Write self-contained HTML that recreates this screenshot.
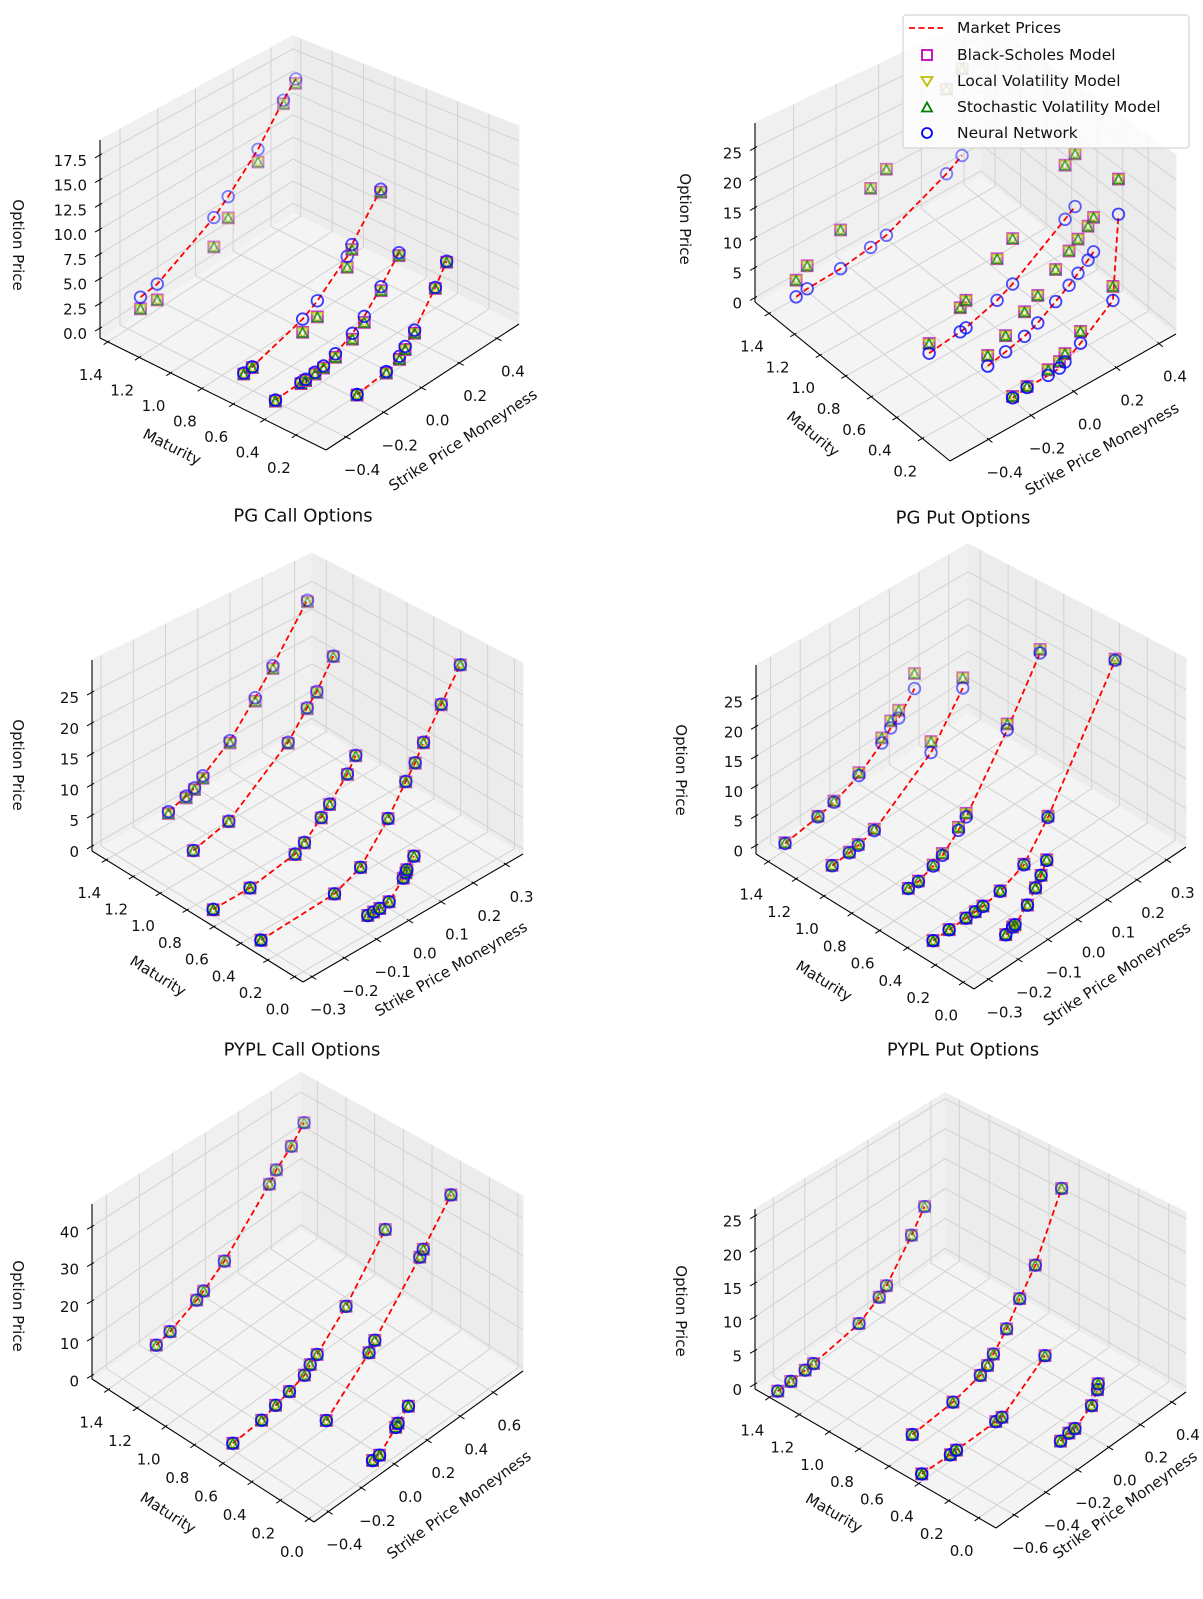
<!DOCTYPE html>
<html><head><meta charset="utf-8">
<style>
html,body{margin:0;padding:0;background:#fff;}
svg{display:block;font-family:"DejaVu Sans","Liberation Sans",sans-serif;}
</style></head>
<body>
<svg id="fig" width="1203" height="1599" viewBox="0 0 1203 1599" xmlns="http://www.w3.org/2000/svg"></svg>
<script>
// ===== DATA =====
// PG Call
const pgCallMaturity = [1.4, 0.6, 0.38, 0.1];
const pgCallStrike = [[-0.333,-0.244,0.056,0.132,0.29,0.425,0.49],[-0.45,-0.405,-0.138,-0.06,0.098,0.123,0.276],[-0.465,-0.33,-0.305,-0.255,-0.21,-0.147,-0.057,0.006,0.095,0.19],[-0.265,-0.11,-0.04,-0.01,0.04,0.15,0.21]];
const pgCallMarket = [[1.4,1.65,4.9,6.2,9.4,13.2,14.8],[1.3,1.37,2.9,3.8,6.4,7.3,11.2],[0.5,0.62,0.62,0.72,0.8,1.24,2.17,3.1,5.0,7.3],[0.75,1.14,1.8,2.4,3.4,6.3,8.2]];
const pgCallModel = [[0.2,0.0,1.75,3.9,8.0,12.8,14.3],[1.2,1.3,1.6,2.2,5.3,6.8,10.9],[0.4,0.5,0.5,0.55,0.6,0.9,1.6,2.5,4.6,7.0],[0.7,1.0,1.5,2.1,3.1,6.2,8.1]];
const pgCallStrikeTicks = [-0.4,-0.2,0.0,0.2,0.4];
const pgCallMaturityTicks = [0.2,0.4,0.6,0.8,1.0,1.2,1.4];
const pgCallPriceTicks = [0,2.5,5,7.5,10,12.5,15,17.5];
const pgCallPriceLabels = ["0.0","2.5","5.0","7.5","10.0","12.5","15.0","17.5"];
// PG Put
const pgPutMaturity = [1.35, 0.6, 0.35, 0.1];
const pgPutStrike = [[-0.484,-0.432,-0.275,-0.134,-0.06,0.222,0.295],[-0.309,-0.163,-0.136,0.01,0.083,0.329,0.376],[-0.184,-0.10,-0.011,0.051,0.135,0.198,0.24,0.287,0.313],[-0.217,-0.149,-0.05,0.003,0.029,0.102,0.254,0.28]];
const pgPutMarket = [[0.93,1.25,1.5,2.3,2.9,8.0,9.8],[1.0,1.66,1.8,3.5,4.8,11.0,12.3],[0.7,1.4,2.2,3.2,5.1,6.6,7.8,9.1,10.0],[0.4,0.75,0.8,0.95,1.45,3.1,7.2,20.9]];
const pgPutModel = [[3.7,5.1,8.1,12.5,14.4,23.2,25.5],[2.55,5.6,6.3,10.4,12.4,20.3,21.4],[2.4,4.0,6.2,7.7,10.4,12.3,13.5,14.8,15.8],[0.6,0.9,1.7,2.0,2.8,5.0,9.5,26.7]];
const pgPutStrikeTicks = [-0.4,-0.2,0.0,0.2,0.4];
const pgPutMaturityTicks = [0.2,0.4,0.6,0.8,1.0,1.2,1.4];
const pgPutPriceTicks = [0,5,10,15,20,25];
// PYPL Call
const pyplCallMaturity = [1.3, 1.05, 0.6, 0.3, 0.05];
const pyplCallStrike = [[-0.177,-0.122,-0.096,-0.07,0.014,0.092,0.147,0.254],[-0.204,-0.094,0.09,0.149,0.179,0.23],[-0.33,-0.216,-0.076,-0.047,0.005,0.031,0.086,0.112],[-0.307,-0.079,0.002,0.087,0.142,0.171,0.197,0.252,0.311],[-0.08,-0.062,-0.043,-0.014,0.03,0.038,0.041,0.063]];
const pyplCallMarket = [[3.8,4.7,5.3,6.5,9.9,14.9,18.8,27.2],[1.63,3.1,10.7,14.8,16.7,21.3],[1.88,1.93,3.2,4.2,6.7,8.1,11.4,13.7],[0.32,0.9,2.7,8.0,12.4,14.6,17.2,21.9,26.8],[0.78,0.8,0.8,1.0,3.4,4.0,4.4,5.9]];
const pyplCallModel = [[3.5,4.4,5.0,6.1,9.5,14.3,18.3,26.9],[1.6,3.0,10.5,14.6,16.5,21.2],[1.8,1.9,3.1,4.1,6.6,8.0,11.3,13.6],[0.3,0.9,2.7,8.0,12.3,14.5,17.1,21.8,26.8],[0.78,0.8,0.8,1.0,3.4,4.0,4.4,5.9]];
const pyplCallStrikeTicks = [-0.3,-0.2,-0.1,0.0,0.1,0.2,0.3];
const pyplCallMaturityTicks = [0.0,0.2,0.4,0.6,0.8,1.0,1.2,1.4];
const pyplCallPriceTicks = [0,5,10,15,20,25];
// PYPL Put
const pyplPutMaturity = [1.35, 1.05, 0.65, 0.25, 0.05];
const pyplPutStrike = [[-0.316,-0.205,-0.151,-0.067,0.01,0.04,0.067,0.12],[-0.298,-0.24,-0.21,-0.156,0.035,0.142],[-0.229,-0.195,-0.145,-0.114,-0.06,-0.034,0.104,0.215],[-0.333,-0.279,-0.222,-0.191,-0.165,-0.107,-0.027,0.054,0.28],[-0.182,-0.159,-0.151,-0.109,-0.082,-0.063,-0.044]];
const pyplPutMarket = [[1.2,2.0,2.7,4.5,7.6,9.25,10.1,13.6],[1.14,1.4,1.64,2.35,9.4,17.2],[0.77,0.8,1.74,2.5,4.9,6.3,16.6,26.4],[1.15,1.2,1.25,1.3,1.35,1.95,3.7,8.9,28.3],[0.1,0.6,0.7,2.5,4.4,5.8,7.6]];
const pyplPutModel = [[1.3,2.1,2.9,5.0,8.5,10.5,11.5,16.3],[1.2,1.5,1.8,2.6,11.3,19.0],[0.8,0.9,1.9,2.8,5.4,6.9,17.6,27.0],[1.15,1.2,1.25,1.3,1.4,2.0,3.8,9.1,28.5],[0.1,0.6,0.7,2.5,4.4,5.8,7.7]];
const pyplPutStrikeTicks = [-0.3,-0.2,-0.1,0.0,0.1,0.2,0.3];
const pyplPutMaturityTicks = [0.0,0.2,0.4,0.6,0.8,1.0,1.2,1.4];
const pyplPutPriceTicks = [0,5,10,15,20,25];
// Panel 5 (calls)
const p5Maturity = [1.35, 0.62, 0.35, 0.02];
const p5Strike = [[-0.24,-0.156,0.005,0.047,0.173,0.446,0.488,0.579,0.656],[-0.41,-0.235,-0.151,-0.067,0.024,0.059,0.101,0.276,0.514],[-0.078,0.181,0.216,0.489,0.51,0.678],[-0.084,-0.042,0.056,0.07,0.133]];
const p5Market = [[4.3,5.3,8.8,10.0,14.3,27.5,30.3,34.3,38.8],[1.3,1.9,3.2,4.2,5.7,7.4,8.8,16.3,30.0],[3.4,13.2,15.4,29.4,30.9,40.8],[1.1,1.2,5.3,5.9,8.4]];
const p5Model = [[4.3,5.3,8.8,10.0,14.3,27.5,30.3,34.3,38.8],[1.3,1.9,3.2,4.2,5.7,7.4,8.8,16.3,30.0],[3.4,13.2,15.4,29.4,30.9,40.8],[1.1,1.2,5.3,5.9,8.4]];
const p5StrikeTicks = [-0.4,-0.2,0.0,0.2,0.4,0.6];
const p5MaturityTicks = [0.0,0.2,0.4,0.6,0.8,1.0,1.2,1.4];
const p5PriceTicks = [0,10,20,30,40];
// Panel 6 (puts)
const p6Maturity = [1.35, 0.6, 0.35, 0.05];
const p6Strike = [[-0.71,-0.627,-0.536,-0.483,-0.194,-0.066,-0.02,0.139,0.222],[-0.568,-0.31,-0.136,-0.09,-0.053,0.031,0.114,0.213,0.38],[-0.745,-0.563,-0.525,-0.275,-0.236,0.037],[-0.149,-0.096,-0.058,0.048,0.086,0.09]];
const p6Market = [[0.68,0.75,0.9,1.0,2.2,4.1,5.1,10.4,13.6],[1.36,1.9,3.0,3.7,4.8,7.2,10.4,13.9,23.1],[1.6,1.45,1.5,1.6,1.6,6.2],[0.46,0.76,0.8,2.4,4.1,4.9]];
const p6Model = [[0.68,0.75,0.9,1.0,2.2,4.1,5.1,10.4,13.6],[1.36,1.9,3.0,3.7,4.8,7.2,10.4,13.9,23.1],[1.6,1.45,1.5,1.6,1.6,6.2],[0.46,0.76,0.8,2.4,4.1,4.9]];
const p6StrikeTicks = [-0.6,-0.4,-0.2,0.0,0.2,0.4];
const p6MaturityTicks = [0.0,0.2,0.4,0.6,0.8,1.0,1.2,1.4];
const p6PriceTicks = [0,5,10,15,20,25];

// ===== GEOMETRY (pixel layout + axis limits) =====
const panels = [
 {id:'pg-call', title:'PG Call Options', titleXY:[303,516], F:[326,450], L:[100,338], R:[519,324], H:198, s:[-0.506,0.517], m:[0.008,1.45], p:[-1,19],
  mat:pgCallMaturity, strike:pgCallStrike, market:pgCallMarket, model:pgCallModel, sT:pgCallStrikeTicks, mT:pgCallMaturityTicks, pT:pgCallPriceTicks, pL:pgCallPriceLabels,
  yl:[18,245], ml:[172,447], sl:[463,440]},
 {id:'pg-put', title:'PG Put Options', titleXY:[963,518], F:[950,461], L:[755,302], R:[1176,334], H:179, s:[-0.581,0.48], m:[-0.017,1.51], p:[-0.77,29.1],
  mat:pgPutMaturity, strike:pgPutStrike, market:pgPutMarket, model:pgPutModel, sT:pgPutStrikeTicks, mT:pgPutMaturityTicks, pT:pgPutPriceTicks, pL:null,
  yl:[685,219], ml:[813,434], sl:[1102,449]},
 {id:'pypl-call', title:'PYPL Call Options', titleXY:[302,1050], F:[303,982], L:[92,851], R:[523,854], H:191, s:[-0.328,0.354], m:[-0.063,1.506], p:[-0.83,30.2],
  mat:pyplCallMaturity, strike:pyplCallStrike, market:pyplCallMarket, model:pyplCallModel, sT:pyplCallStrikeTicks, mT:pyplCallMaturityTicks, pT:pyplCallPriceTicks, pL:null,
  yl:[18,765], ml:[158,976], sl:[451,969]},
 {id:'pypl-put', title:'PYPL Put Options', titleXY:[963,1050], F:[974,989], L:[756,854], R:[1186,847], H:189, s:[-0.349,0.365], m:[-0.078,1.488], p:[-1.47,30.3],
  mat:pyplPutMaturity, strike:pyplPutStrike, market:pyplPutMarket, model:pyplPutModel, sT:pyplPutStrikeTicks, mT:pyplPutMaturityTicks, pT:pyplPutPriceTicks, pL:null,
  yl:[681,770], ml:[824,981], sl:[1117,974]},
 {id:'third-call', title:null, F:[314,1522], L:[92,1379], R:[523,1371], H:175, s:[-0.487,0.78], m:[-0.035,1.514], p:[-1,46],
  mat:p5Maturity, strike:p5Strike, market:p5Market, model:p5Model, sT:p5StrikeTicks, mT:p5MaturityTicks, pT:p5PriceTicks, pL:null,
  yl:[18,1306], ml:[168,1513], sl:[459,1505]},
 {id:'third-put', title:null, F:[996,1528], L:[755,1389], R:[1186,1392], H:180, s:[-0.716,0.49], m:[-0.116,1.496], p:[-0.76,26],
  mat:p6Maturity, strike:p6Strike, market:p6Market, model:p6Model, sT:p6StrikeTicks, mT:p6MaturityTicks, pT:p6PriceTicks, pL:null,
  yl:[681,1311], ml:[834,1513], sl:[1125,1505]}
];

const NS='http://www.w3.org/2000/svg';
const svg=document.getElementById('fig');
function mk(tag, attrs, parent){const e=document.createElementNS(NS,tag);for(const k in attrs)e.setAttribute(k,attrs[k]);(parent||svg).appendChild(e);return e;}

function norm(P,s,m){return [(s-P.s[0])/(P.s[1]-P.s[0]),(m-P.m[0])/(P.m[1]-P.m[0])];}
function proj(P,s,m,p){
  const [a,b]=norm(P,s,m);
  const c=(p-P.p[0])/(P.p[1]-P.p[0]);
  const k=1+0.11*(1-a-b);
  const x=P.F[0]+a*(P.R[0]-P.F[0])+b*(P.L[0]-P.F[0]);
  const y=P.F[1]+a*(P.R[1]-P.F[1])+b*(P.L[1]-P.F[1])-c*P.H*k;
  return [x,y];
}
function fmt(v,d){return (v<0?'\u2212':'')+Math.abs(v).toFixed(d);}
function poly(pts){return pts.map(q=>q[0].toFixed(1)+','+q[1].toFixed(1)).join(' ');}

function drawPanel(P){
  const g=mk('g',{});
  
  
  const s0=P.s[0],s1=P.s[1],m0=P.m[0],m1=P.m[1],p0=P.p[0],p1=P.p[1];
  const floor=mk('polygon',{points:poly([proj(P,s0,m1,p0),proj(P,s0,m0,p0),proj(P,s1,m0,p0),proj(P,s1,m1,p0)]),fill:'#f4f4f4',stroke:'#f4f4f4'},g);
  
  
  const wl=mk('polygon',{points:poly([proj(P,s0,m1,p0),proj(P,s1,m1,p0),proj(P,s1,m1,p1),proj(P,s0,m1,p1)]),fill:'#f0f0f0',stroke:'#eeeeee'},g);
  
  
  const wr=mk('polygon',{points:poly([proj(P,s1,m1,p0),proj(P,s1,m0,p0),proj(P,s1,m0,p1),proj(P,s1,m1,p1)]),fill:'#ececec',stroke:'#eeeeee'},g);
  
  
  const gs={stroke:'#d2d2d2','stroke-width':1,fill:'none'};
  function gl(a,b,name){const l=mk('line',Object.assign({x1:a[0],y1:a[1],x2:b[0],y2:b[1]},gs),g);}
  P.sT.forEach(s=>{gl(proj(P,s,m0,p0),proj(P,s,m1,p0),'strike-gridline');gl(proj(P,s,m1,p0),proj(P,s,m1,p1),'strike-gridline');});
  P.mT.forEach(m=>{gl(proj(P,s0,m,p0),proj(P,s1,m,p0),'maturity-gridline');gl(proj(P,s1,m,p0),proj(P,s1,m,p1),'maturity-gridline');});
  P.pT.forEach(p=>{gl(proj(P,s0,m1,p),proj(P,s1,m1,p),'price-gridline');gl(proj(P,s1,m1,p),proj(P,s1,m0,p),'price-gridline');});
  const ax={stroke:'#000','stroke-width':1.1};
  const A1=proj(P,s0,m1,p0),A2=proj(P,s0,m0,p0),A3=proj(P,s1,m0,p0),A4=proj(P,s0,m1,p1);
  const la=mk('line',Object.assign({x1:A1[0],y1:A1[1],x2:A2[0],y2:A2[1]},ax),g);
  
  
  const lb=mk('line',Object.assign({x1:A2[0],y1:A2[1],x2:A3[0],y2:A3[1]},ax),g);
  
  
  const lc=mk('line',Object.assign({x1:A1[0],y1:A1[1],x2:A4[0],y2:A4[1]},ax),g);
  
  
  const dM=[A2[0]-A3[0],A2[1]-A3[1]];const nM=Math.hypot(dM[0],dM[1]);
  const dS=[A2[0]-A1[0],A2[1]-A1[1]];const nS=Math.hypot(dS[0],dS[1]);
  const tf={'font-size':15,fill:'#111','text-anchor':'middle','dominant-baseline':'central'};
  P.mT.forEach(m=>{
    const q=proj(P,s0,m,p0);const ux=dM[0]/nM,uy=dM[1]/nM;
    const t=mk('line',{x1:q[0]-2*ux,y1:q[1]-2*uy,x2:q[0]+5*ux,y2:q[1]+5*uy,stroke:'#000','stroke-width':1},g);
    
    
    const lab=mk('text',Object.assign({x:q[0]-17,y:q[1]+33},tf),g);
    lab.textContent=fmt(m,1);
    
    
  });
  P.sT.forEach(s=>{
    const q=proj(P,s,m0,p0);const ux=dS[0]/nS,uy=dS[1]/nS;
    const t=mk('line',{x1:q[0]-2*ux,y1:q[1]-2*uy,x2:q[0]+5*ux,y2:q[1]+5*uy,stroke:'#000','stroke-width':1},g);
    
    
    const lab=mk('text',Object.assign({x:q[0]+16,y:q[1]+33},tf),g);
    lab.textContent=fmt(s,1);
    
    
  });
  P.pT.forEach((p,i)=>{
    const q=proj(P,s0,m1,p);
    const t=mk('line',{x1:q[0]-5,y1:q[1]+3,x2:q[0]+2,y2:q[1]-1,stroke:'#000','stroke-width':1},g);
    
    
    const lab=mk('text',{x:q[0]-13,y:q[1]+6,'font-size':15,fill:'#111','text-anchor':'end','dominant-baseline':'central'},g);
    lab.textContent=P.pL?P.pL[i]:String(p);
    
    
  });
  const angM=Math.atan2(A2[1]-A1[1],A2[0]-A1[0])*180/Math.PI;
  const angS=Math.atan2(A3[1]-A2[1],A3[0]-A2[0])*180/Math.PI;
  const yt=mk('text',{x:P.yl[0],y:P.yl[1],'font-size':15,fill:'#111','text-anchor':'middle','dominant-baseline':'central',transform:`rotate(90 ${P.yl[0]} ${P.yl[1]})`},g);
  yt.textContent='Option Price';
  
  
  const mt=mk('text',{x:P.ml[0],y:P.ml[1],'font-size':15,fill:'#111','text-anchor':'middle','dominant-baseline':'central',transform:`rotate(${angM.toFixed(1)} ${P.ml[0]} ${P.ml[1]})`},g);
  mt.textContent='Maturity';
  
  
  const st=mk('text',{x:P.sl[0],y:P.sl[1],'font-size':15,fill:'#111','text-anchor':'middle','dominant-baseline':'central',transform:`rotate(${angS.toFixed(1)} ${P.sl[0]} ${P.sl[1]})`},g);
  st.textContent='Strike Price Moneyness';
  
  
  if(P.title){
    const tt=mk('text',{x:P.titleXY[0],y:P.titleXY[1],'font-size':18,fill:'#111','text-anchor':'middle','dominant-baseline':'central'},g);
    tt.textContent=P.title;
    
    
  }
  P.mat.forEach((m,li)=>{
    const pts=P.strike[li].map((s,j)=>proj(P,s,m,P.market[li][j]));
    const pl=mk('polyline',{points:poly(pts),fill:'none',stroke:'#ff0000','stroke-width':1.8,'stroke-dasharray':'6,3.5'},g);
    
    
  });
  function alphaAt(s,m){const [a,b]=norm(P,s,m);return Math.max(0.3,Math.min(1,1-0.62*(a+b)/2));}
  P.mat.forEach((m,li)=>{
    P.strike[li].forEach((s,j)=>{
      const al=alphaAt(s,m);
      const q=proj(P,s,m,P.model[li][j]);
      const sq=mk('rect',{x:q[0]-5.5,y:q[1]-5.5,width:11,height:11,fill:'none',stroke:'#bf00bf','stroke-width':1.8,opacity:al},g);
      
      
      const tv=mk('polygon',{points:poly([[q[0]-5.5,q[1]-4],[q[0]+5.5,q[1]-4],[q[0],q[1]+5.5]]),fill:'none',stroke:'#bfbf00','stroke-width':1.8,opacity:al},g);
      
      
      const tu=mk('polygon',{points:poly([[q[0]-5,q[1]+4.5],[q[0]+5,q[1]+4.5],[q[0],q[1]-4.5]]),fill:'none',stroke:'#008000','stroke-width':1.8,opacity:al},g);
      
      
      const qn=proj(P,s,m,P.market[li][j]);
      const c=mk('circle',{cx:qn[0],cy:qn[1],r:5.8,fill:'none',stroke:'#0000ff','stroke-width':1.8,opacity:al},g);
      
      
    });
  });
}
panels.forEach(drawPanel);

const lg=mk('g',{});


const lbox=mk('rect',{x:903,y:15,width:286,height:133,rx:3,fill:'#ffffff','fill-opacity':0.8,stroke:'#cccccc'},lg);


const legendLabels=['Market Prices','Black-Scholes Model','Local Volatility Model','Stochastic Volatility Model','Neural Network'];
const rowY=[28,55,81,107,133];
legendLabels.forEach((t,i)=>{
  const y=rowY[i],x=927;
  let e;
  if(i===0) e=mk('line',{x1:909,y1:y,x2:943,y2:y,stroke:'#ff0000','stroke-width':1.8,'stroke-dasharray':'6,3.5'},lg);
  if(i===1) e=mk('rect',{x:x-5,y:y-5,width:10,height:10,fill:'none',stroke:'#bf00bf','stroke-width':1.8},lg);
  if(i===2) e=mk('polygon',{points:poly([[x-5.5,y-4],[x+5.5,y-4],[x,y+5]]),fill:'none',stroke:'#bfbf00','stroke-width':1.8},lg);
  if(i===3) e=mk('polygon',{points:poly([[x-5,y+4.5],[x+5,y+4.5],[x,y-4.5]]),fill:'none',stroke:'#008000','stroke-width':1.8},lg);
  if(i===4) e=mk('circle',{cx:x,cy:y,r:5,fill:'none',stroke:'#0000ff','stroke-width':1.8},lg);
  
  
  const tx=mk('text',{x:957,y:y,'font-size':15.5,fill:'#111','dominant-baseline':'central'},lg);
  tx.textContent=t;
  
  
});
</script>
</body></html>
